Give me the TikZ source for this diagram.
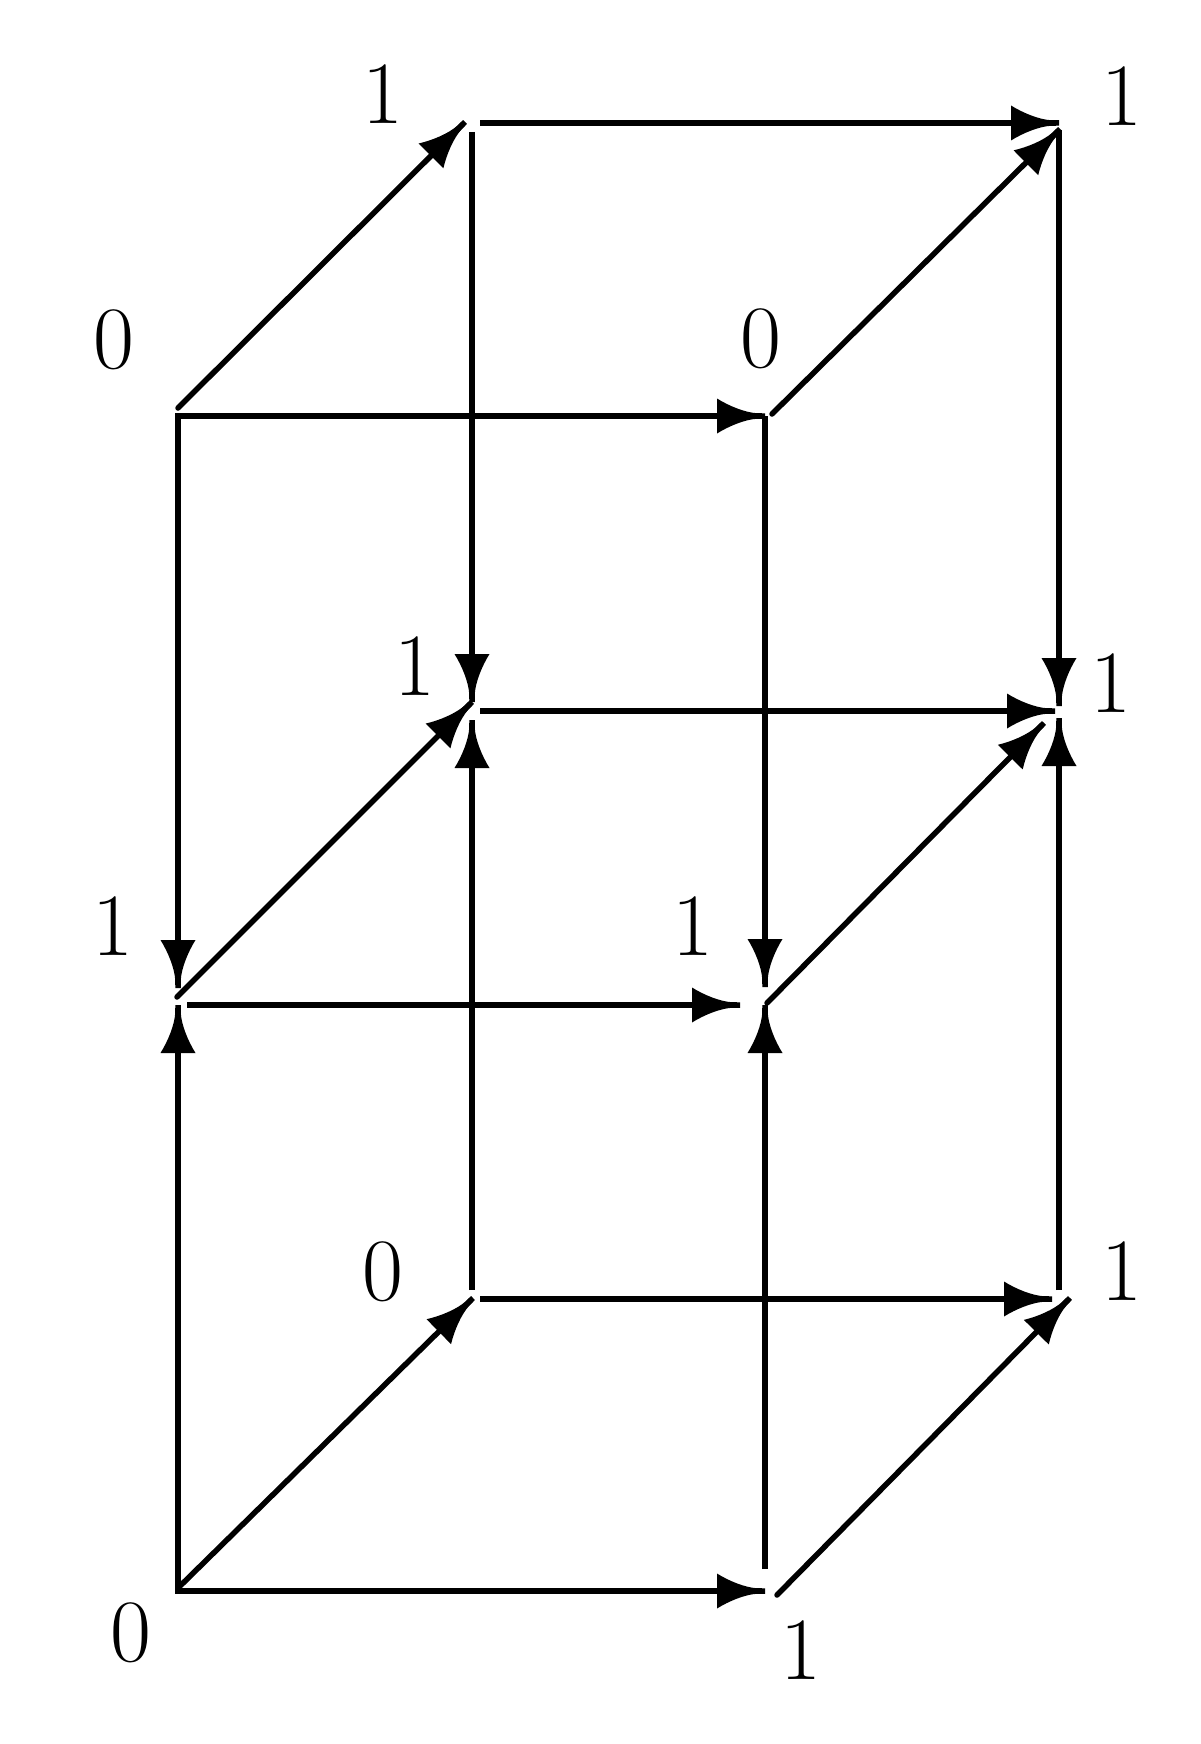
\documentclass[tikz,border=0pt]{standalone}
\usetikzlibrary{calc}
\pgfdeclarearrow{
  name=Horn,
  setup code={
    \pgfarrowssettipend{0pt}
    \pgfarrowssetlineend{-3pt}
    \pgfarrowssetbackend{-48pt}
    \pgfarrowssetvisualbackend{-48pt}
    \pgfarrowshullpoint{0pt}{0pt}
    \pgfarrowsupperhullpoint{-48pt}{17.5pt}
  },
  drawing code={
    \pgfpathmoveto{\pgfqpoint{-48pt}{17.5pt}}
    \pgfpathcurveto{\pgfqpoint{-36pt}{10pt}}{\pgfqpoint{-20pt}{3.5pt}}{\pgfqpoint{-8pt}{2.75pt}}
    \pgfpathlineto{\pgfqpoint{0pt}{2.75pt}}
    \pgfpathlineto{\pgfqpoint{0pt}{-2.75pt}}
    \pgfpathlineto{\pgfqpoint{-8pt}{-2.75pt}}
    \pgfpathcurveto{\pgfqpoint{-20pt}{-3.5pt}}{\pgfqpoint{-36pt}{-10pt}}{\pgfqpoint{-48pt}{-17.5pt}}
    \pgfpathclose
    \pgfusepathqfill
  }
}
\tikzset{
  edge/.style={line width=5.5pt, line cap=butt, -Horn},
  diag/.style={line width=5.5pt, line cap=round, -Horn},
  lab/.style={inner sep=0pt, font=\fontsize{89}{100}\selectfont}
}
\begin{document}
\begin{tikzpicture}[x=1pt,y=-1pt]
\useasboundingbox (0,0) rectangle (1200,1744);
% vertices
\coordinate (FLt) at (178,416);
\coordinate (FRt) at (765,416);
\coordinate (BLt) at (472,122);
\coordinate (BRt) at (1059,122);
\coordinate (FLm) at (178,1003);
\coordinate (FRm) at (765,1003);
\coordinate (BLm) at (472,710);
\coordinate (BRm) at (1059,710);
\coordinate (FLb) at (178,1591);
\coordinate (FRb) at (765,1591);
\coordinate (BLb) at (472,1297);
\coordinate (BRb) at (1059,1297);
% labels
\node[lab] (lFLt) at (114,340) {0};
\node[lab] (lFRt) at (761,339) {0};
\node[lab] (lBLt) at (383,94) {1};
\node[lab] (lBRt) at (1122,96) {1};
\node[lab] (lBLm) at (415,666) {1};
\node[lab] (lBRm) at (1111,683) {1};
\node[lab] (lFLm) at (113,926) {1};
\node[lab] (lFRm) at (693,926) {1};
\node[lab] (lBLb) at (383,1272) {0};
\node[lab] (lBRb) at (1122,1271) {1};
\node[lab] (lFLb) at (131,1633) {0};
\node[lab] (lFRb) at (801,1650) {1};
% top layer
\draw[edge] ($(FLt)+(-2.75,0)$) -- (FRt);
\draw[diag] ($(FLt)+(0,-8)$) -- ($(BLt)+(-7,0)$);
\draw[edge] ($(BLt)+(8,1)$) -- ($(BRt)+(0,1)$);
\draw[diag] ($(FRt)+(7,-2)$) -- ($(BRt)+(1,7)$);
% top to middle
\draw[edge] ($(FLt)+(0,-2.75)$) -- ($(FLm)+(0,-15)$);
\draw[edge] ($(BLt)+(0,10)$) -- ($(BLm)+(0,-8)$);
\draw[edge] (FRt) -- ($(FRm)+(0,-16)$);
\draw[edge] ($(BRt)+(0,8)$) -- ($(BRm)+(0,-4)$);
% middle layer
\draw[edge] ($(FLm)+(9,2)$) -- ($(FRm)+(-25,2)$);
\draw[diag] ($(FLm)+(-1,-6)$) -- ($(BLm)+(0,-8)$);
\draw[edge] ($(BLm)+(8,1)$) -- ($(BRm)+(-4,1)$);
\draw[diag] ($(FRm)+(2,0)$) -- ($(BRm)+(-15,13)$);
% bottom to middle
\draw[edge] ($(FLb)+(0,2.75)$) -- ($(FLm)+(0,2)$);
\draw[edge] ($(BLb)+(0,-7)$) -- ($(BLm)+(0,10)$);
\draw[edge] ($(FRb)+(0,-22)$) -- ($(FRm)+(0,2)$);
\draw[edge] ($(BRb)+(0,-7)$) -- ($(BRm)+(0,8)$);
% bottom layer
\draw[edge] ($(FLb)+(-2.75,0)$) -- (FRb);
\draw[diag] ($(FLb)+(0,-3)$) -- ($(BLb)+(1,1)$);
\draw[edge] ($(BLb)+(8,2)$) -- ($(BRb)+(-7,2)$);
\draw[diag] ($(FRb)+(12,4)$) -- ($(BRb)+(11,1)$);
\end{tikzpicture}
\end{document}
